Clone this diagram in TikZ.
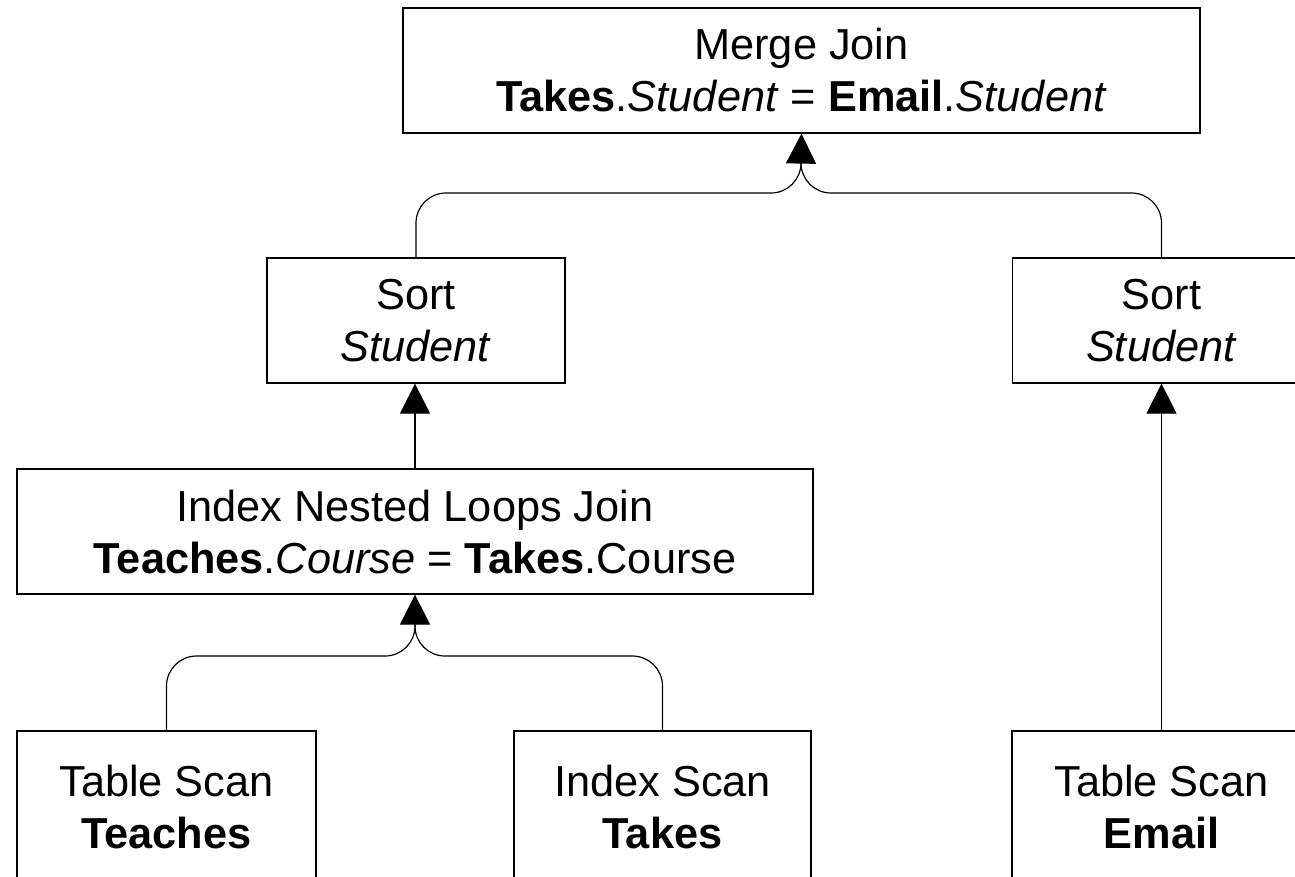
\documentclass[tikz,border=0pt]{standalone}
\usepackage{fontspec}
\setmainfont{Liberation Sans}
\usetikzlibrary{arrows.meta}
\tikzset{
  opbox/.style={draw=black, line width=0.9pt, fill=white, align=center, inner sep=0pt,
    font=\fontsize{32.5}{39}\selectfont},
  conn/.style={draw=black, line width=0.9pt, rounded corners=22.5pt},
  arrowc/.style={draw=black, line width=0.9pt, -{Triangle[width=22.5pt,length=22.5pt]}}
}
\begin{document}
\begin{tikzpicture}[x=0.75pt,y=-0.75pt]
\clip (0,0) rectangle (1295,876);
\fill[white] (0,0) rectangle (1295,876);
\node[opbox, minimum width=597.75pt, minimum height=93.75pt] (merge) at (801.5,70.5)
  {Merge Join\\\textbf{Takes}.\textit{Student} = \textbf{Email}.\textit{Student}};
\node[opbox, minimum width=223.5pt, minimum height=93.75pt] (sortL) at (416,320.5)
  {Sort\\\textit{Student}};
\node[opbox, minimum width=223.5pt, minimum height=93.75pt] (sortR) at (1161.5,320.5)
  {Sort\\\textit{Student}};
\node[opbox, minimum width=597pt, minimum height=93.75pt] (inlj) at (415,531.5)
  {Index Nested Loops Join\\\textbf{Teaches}.\textit{Course} = \textbf{Takes}.Course};
\node[opbox, minimum width=224.25pt, minimum height=114pt] (tsT) at (166.5,807)
  {Table Scan\\\textbf{Teaches}};
\node[opbox, minimum width=222.75pt, minimum height=114pt] (isT) at (662.5,807)
  {Index Scan\\\textbf{Takes}};
\node[opbox, minimum width=224.25pt, minimum height=114pt] (tsE) at (1161.5,807)
  {Table Scan\\\textbf{Email}};
\coordinate (b1) at (801,193);
\coordinate (j1) at (801,163);
\coordinate (b2) at (415,656);
\coordinate (j2) at (415,624);
\draw[conn] (sortL.north) |- (b1) -- (j1);
\draw[conn] (sortR.north) |- (b1) -- (j1);
\draw[arrowc] (j1) -- (merge.south);
\draw[conn] (tsT.north) |- (b2) -- (j2);
\draw[conn] (isT.north) |- (b2) -- (j2);
\draw[arrowc] (j2) -- (inlj.south);
\draw[arrowc] (inlj.north) -- (inlj.north |- sortL.south);
\draw[arrowc] (tsE.north) -- (tsE.north |- sortR.south);
\end{tikzpicture}
\end{document}
